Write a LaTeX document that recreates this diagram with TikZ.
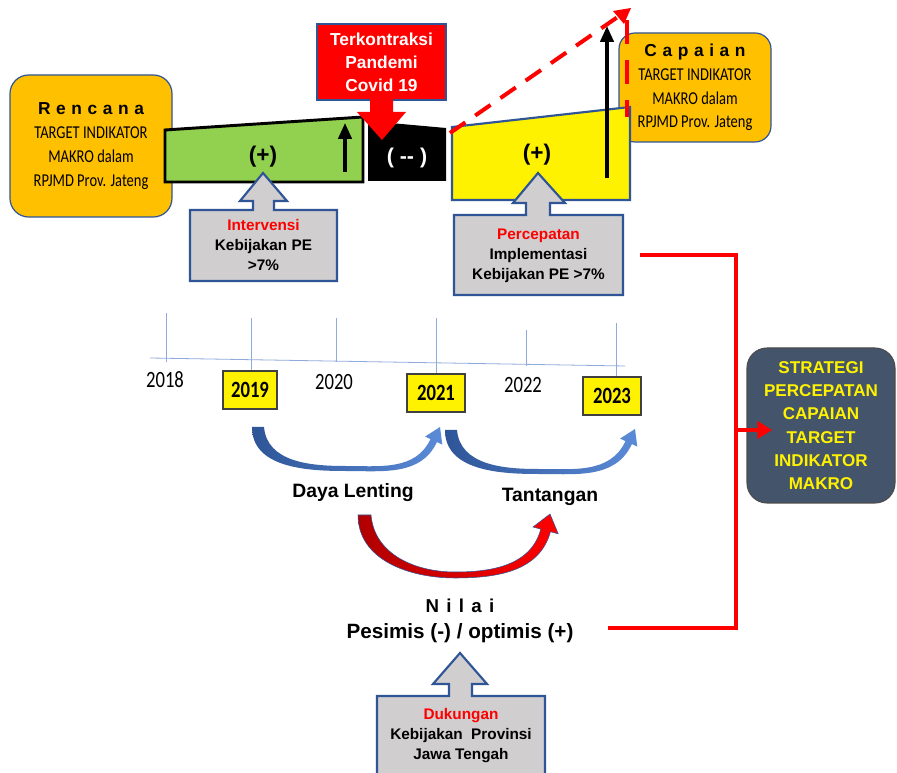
\documentclass[tikz,border=0pt]{standalone}
\usepackage{fontspec}
\setmainfont{Liberation Sans}
\newfontfamily\calib[FakeStretch=0.8]{Carlito}
\usetikzlibrary{arrows.meta}
\definecolor{orng}{HTML}{FFC000}
\definecolor{bord}{HTML}{2F5597}
\definecolor{grn}{HTML}{92D050}
\definecolor{gry}{HTML}{D0CECE}
\definecolor{slate}{HTML}{44546A}
\definecolor{tl}{HTML}{8FAADC}
\definecolor{blu}{HTML}{5B8BD8}
\definecolor{dblu}{HTML}{2E5597}
\definecolor{dred}{HTML}{B00000}
\newcommand{\ttl}[1]{{\normalfont\bfseries\fontsize{13}{17.8}\selectfont\spaceskip=4.2pt #1}}
\tikzset{
 obox/.style={rectangle, rounded corners=14pt, fill=orng, draw=bord, line width=0.9pt, align=center, inner sep=0pt, font=\calib\fontsize{13.6}{17.8}\selectfont},
 gbox/.style={fill=gry, draw=bord, line width=1.6pt},
 gtext/.style={align=center, font=\bfseries\fontsize{11.5}{15}\selectfont, inner sep=0pt},
 ybox/.style={rectangle, fill=yellow, draw=black!75, line width=0.8pt, inner sep=0pt, minimum height=28.5pt, font=\calib\bfseries\fontsize{17.5}{18}\selectfont},
 yrlab/.style={font=\calib\fontsize{17.5}{18}\selectfont, inner sep=0pt},
 bigbold/.style={font=\bfseries\fontsize{14.5}{17}\selectfont, inner sep=0pt},
 redline/.style={red, line width=2.4pt},
 tline/.style={draw=tl, line width=0.6pt},
}
\begin{document}
\begin{tikzpicture}[x=0.75pt,y=-0.75pt]
\clip (0,0) rectangle (897,773);
\fill[white] (0,0) rectangle (897,773);

% orange boxes
\node[obox, minimum width=121.5pt, minimum height=106.5pt] (renc) at (91,146)
  {\ttl{R e n c a n a}\\TARGET INDIKATOR\\MAKRO dalam\\RPJMD Prov. Jateng};
\node[obox, rounded corners=12pt, minimum width=114pt, minimum height=81.75pt] (capa) at (695,87.5)
  {\ttl{C a p a i a n}\\TARGET INDIKATOR\\MAKRO dalam\\RPJMD Prov. Jateng};

% green segment
\draw[line width=2.2pt, fill=grn] (165,130) -- (363,117) -- (363,182) -- (165,182) -- cycle;
\node[font=\bfseries\fontsize{17}{19}\selectfont, inner sep=0pt] (plus1) at (263,157) {(+)};
\draw[line width=2.6pt, -{Triangle[length=12pt,width=10pt]}] (345,172) -- (345,123);

% black segment
\fill[black] (368,121) -- (446,128) -- (446,181) -- (368,181) -- cycle;
\node[text=white, font=\bfseries\fontsize{16}{18}\selectfont, inner sep=0pt] (minus) at (407,158) {( -{}- )};

% red box
\node[rectangle, fill=red, draw=bord, line width=0.8pt, minimum width=96.75pt, minimum height=57pt, align=center, inner sep=0pt, text=white, font=\bfseries\fontsize{13}{17.25}\selectfont] (covid) at (381.5,62) {Terkontraksi\\Pandemi\\Covid 19};
\fill[red] (370,99) -- (393,99) -- (393,112) -- (406,112) -- (382,140) -- (357,112) -- (370,112) -- cycle;

% yellow segment
\draw[fill=yellow, draw=bord, line width=1.6pt] (452,127) -- (630,107) -- (630,200) -- (452,200) -- cycle;
\node[font=\bfseries\fontsize{17}{19}\selectfont, inner sep=0pt] (plus2) at (537,155) {(+)};
\draw[line width=2.6pt, -{Triangle[length=12pt,width=10pt]}] (607,178) -- (607,26);
\draw[red, line width=3pt, dash pattern=on 14pt off 9pt] (450,133) -- (622,14);
\fill[red] (631,8) -- (613,11) -- (624,24) -- cycle;
\draw[red, line width=3pt, dash pattern=on 18pt off 12pt] (627,20) -- (627,117);

% gray callouts
\draw[gbox] (190,210) -- (253,210) -- (253,201) -- (240,201) -- (263,173) -- (287,201) -- (274,201) -- (274,210) -- (337,210) -- (337,281) -- (190,281) -- cycle;
\node[gtext] (interv) at (263.5,245) {\textcolor{red}{Intervensi}\\Kebijakan PE\\>7\%};
\draw[gbox] (454,215) -- (526,215) -- (526,203) -- (513,203) -- (538,173) -- (565,203) -- (550,203) -- (550,215) -- (623,215) -- (623,295) -- (454,295) -- cycle;
\node[gtext] (percep) at (538.5,256) {\textcolor{red}{Percepatan}\\Implementasi\\Kebijakan PE >7\%};
\draw[gbox] (377,696) -- (449,696) -- (449,684) -- (433,684) -- (460,653) -- (487,684) -- (472,684) -- (472,696) -- (545,696) -- (545,785) -- (377,785) -- cycle;
\node[gtext] (dukung) at (461,735.5) {\textcolor{red}{Dukungan}\\Kebijakan\ \ Provinsi\\Jawa Tengah};

% timeline
\draw[tline] (150,358) -- (625,366);
\draw[tline] (166,313) -- (166,362);
\draw[tline] (251,318) -- (251,372);
\draw[tline] (336,318) -- (336,362);
\draw[tline] (436,318) -- (436,375);
\draw[tline] (526,330) -- (526,366);
\draw[tline] (616,323) -- (616,378);
\node[yrlab] (y18) at (165,380) {2018};
\node[yrlab] (y20) at (334,382) {2020};
\node[yrlab] (y22) at (523,385) {2022};
\node[ybox, minimum width=40.5pt] (y19) at (250,390) {2019};
\node[ybox, minimum width=43.5pt] (y21) at (436,393) {2021};
\node[ybox, minimum width=43.5pt] (y23) at (612,396) {2023};

% curved arrows
\shade[left color=dblu, right color=blu] (252,427) to[out=-90,in=180] (345,471) to[out=0,in=245] (436.9,442.1) -- (442.3,444.6) -- (440,427) -- (425.1,436.6) -- (430.5,439.1) to[out=245,in=0] (345,466) to[out=180,in=-85] (264,427) -- cycle;
\shade[left color=dblu, right color=blu] (445,430) to[out=-90,in=180] (538,474) to[out=0,in=245] (631.9,444.1) -- (637.3,446.6) -- (635,429) -- (620.1,438.6) -- (625.5,441.1) to[out=245,in=0] (538,469) to[out=180,in=-85] (457,430) -- cycle;
\shade[left color=dred, right color=red, draw=bord, line width=0.4pt] (358,515) to[out=-90,in=180] (455,578) to[out=0,in=255] (550.4,531.7) -- (558.2,533.8) -- (550,514) -- (533,527) -- (540.8,529.1) to[out=255,in=0] (455,572) to[out=180,in=-85] (371,515) -- cycle;

\node[bigbold] (daya) at (353,493) {Daya Lenting};
\node[bigbold] (tant) at (550,497) {Tantangan};
\node[font=\bfseries\fontsize{14}{17}\selectfont, inner sep=0pt] (nilai) at (460,606) {{\spaceskip=5.5pt N i l a i}};
\node[font=\bfseries\fontsize{15.5}{18}\selectfont, inner sep=0pt] (pesim) at (460,633) {Pesimis (-) / optimis (+)};

% strategy box
\node[rectangle, rounded corners=15pt, fill=slate, draw=black!70, line width=0.8pt, minimum width=111pt, minimum height=116.25pt, align=center, inner sep=0pt, text=yellow, font=\bfseries\fontsize{12.8}{17.5}\selectfont] (strat) at (821,425.5) {STRATEGI\\PERCEPATAN\\CAPAIAN\\TARGET\\INDIKATOR\\MAKRO};

% red connector
\coordinate (r1) at (640,255);
\coordinate (r2) at (736,255);
\coordinate (r3) at (736,628);
\coordinate (r4) at (608,628);
\coordinate (r5) at (736,430);
\coordinate (r6) at (772,430);
\draw[redline] (r1) -- (r2) -- (r3) -- (r4);
\draw[redline, -{Triangle[length=11pt,width=13pt]}] (r5) -- (r6);
\end{tikzpicture}
\end{document}
